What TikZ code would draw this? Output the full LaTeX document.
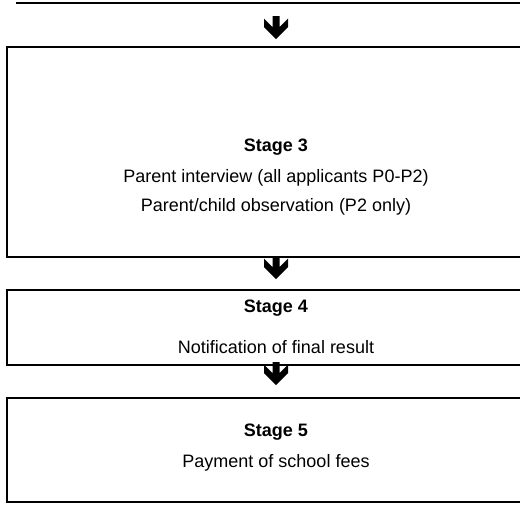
\documentclass[tikz,border=0pt]{standalone}
\usepackage{fontspec}
\setmainfont{Liberation Sans}
\begin{document}
\begin{tikzpicture}[x=1pt,y=-1pt,
  boxline/.style={draw=black,line width=1.75pt},
  stagebox/.style={boxline,anchor=north west,inner sep=0pt,minimum width=524pt},
  title/.style={font=\bfseries\fontsize{18}{21}\selectfont,inner sep=0pt},
  body/.style={font=\fontsize{18}{21}\selectfont,inner sep=0pt},
  fatarrow/.pic={\fill[black] (-3.5,0) -- (3.5,0) -- (3.5,11) -- (12,2.5) -- (12,11) -- (0,23) -- (-12,11) -- (-12,2.5) -- (-3.5,11) -- cycle;}]
\useasboundingbox (0,0) rectangle (520,504);
\clip (0,0) rectangle (520,504);
% bottom edge of previous box
\coordinate (prevL) at (16,3);
\coordinate (prevR) at (540,3);
\draw[boxline] (prevL) -- (prevR);
% boxes
\node[stagebox,minimum height=210pt] (s3) at (6,46) {};
\node[stagebox,minimum height=75pt] (s4) at (6,289) {};
\node[stagebox,minimum height=104pt] (s5) at (6,397) {};
% texts
\node[title] (s3t) at (276,147) {Stage 3};
\node[body] (s3a) at (276,178) {Parent interview (all applicants P0-P2)};
\node[body] (s3b) at (276,207) {Parent/child observation (P2 only)};
\node[title] (s4t) at (276,308) {Stage 4};
\node[body] (s4a) at (276,347) {Notification of final result};
\node[title] (s5t) at (276,432) {Stage 5};
\node[body] (s5a) at (276,463) {Payment of school fees};
% arrows
\coordinate (a1) at (276,16);
\coordinate (a2) at (276,256);
\coordinate (a3) at (276,362);
\pic at (a1) {fatarrow};
\pic at (a2) {fatarrow};
\pic at (a3) {fatarrow};
\end{tikzpicture}
\end{document}
